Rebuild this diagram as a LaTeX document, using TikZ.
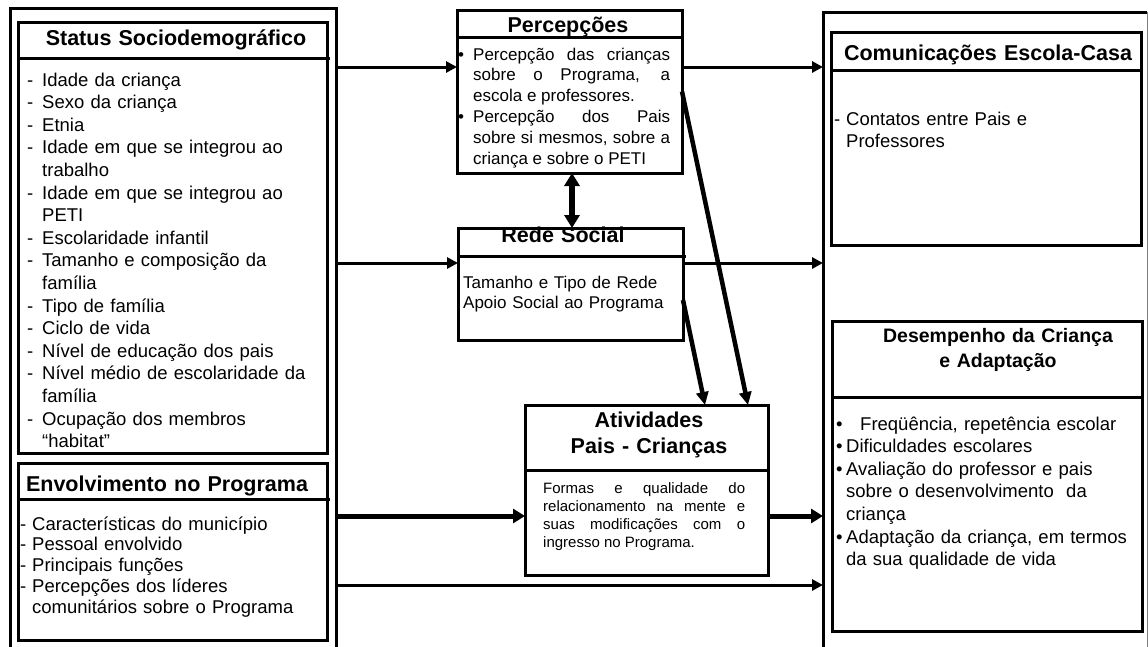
\documentclass[tikz,border=0pt]{standalone}
\usepackage{fontspec}
\setmainfont{Liberation Sans}
\usetikzlibrary{arrows.meta,positioning}

% list marks with hanging continuation lines
\newcommand{\litem}[1][15pt]{\makebox[#1][l]{-}}
\newcommand{\lcont}[1][15pt]{\hspace*{#1}}
\newcommand{\bitem}[1][10pt]{\makebox[#1][l]{\textbullet}}

\begin{document}
\begin{tikzpicture}[x=1pt, y=-1pt,
   outerframe/.style={inner sep=0pt, outer sep=0pt, anchor=north west},
   box/.style={draw, line width=3pt, inner sep=0pt, outer sep=0pt, anchor=north west},
   boxtitle/.style={anchor=base, inner sep=0pt, text width=#1, align=center,
      font=\fontsize{21.5}{25}\selectfont\bfseries},
   boxtitle/.default=300pt,
   body/.style={anchor=base west, inner sep=0pt, text width=#1, align=left,
      font=\fontsize{18.5}{22.6}\selectfont},
   body/.default=298pt,
   conn/.style={line width=3pt, -{Triangle[length=11pt,width=11pt]}},
   thickconn/.style={line width=5pt, -{Triangle[length=12pt,width=14pt]}},
   dblconn/.style={line width=6pt, {Triangle[length=13pt,width=15pt]}-{Triangle[length=13pt,width=15pt]}},
   diagconn/.style={line width=4.5pt, -{Triangle[length=13pt,width=12pt]}}]

\useasboundingbox (0,0) rectangle (1148,646);

% outer frames
\node[outerframe, draw, line width=3pt, minimum width=326pt, minimum height=700pt] (lframe) at (10,8) {};
\node[outerframe, minimum width=324pt, minimum height=700pt] (rframe) at (823,12) {};
\draw[line width=3pt] (rframe.south west) -- (rframe.north west) -- (rframe.north east);
\draw[line width=1pt, gray] (rframe.north east) -- (rframe.south east);

% left column
\node[box, minimum width=309pt, minimum height=431pt] (status) at (18,22) {};
\draw[line width=3pt] ([yshift=-36pt]status.north west) -- ([yshift=-36pt,xshift=3pt]status.north east);
\node[boxtitle] (status-t) at (176,45) {Status Sociodemográfico};
\node[body] (status-b) at (27,86) {%
  \litem Idade da criança\\
  \litem Sexo da criança\\
  \litem Etnia\\
  \litem Idade em que se integrou ao\\
  \lcont trabalho\\
  \litem Idade em que se integrou ao\\
  \lcont PETI\\
  \litem Escolaridade infantil\\
  \litem Tamanho e composição da\\
  \lcont família\\
  \litem Tipo de família\\
  \litem Ciclo de vida\\
  \litem Nível de educação dos pais\\
  \litem Nível médio de escolaridade da\\
  \lcont família\\
  \litem Ocupação dos membros\\
  \lcont “habitat”};

\node[box, minimum width=309pt, minimum height=177pt] (envolv) at (18,463) {};
\draw[line width=3pt] ([yshift=-36pt]envolv.north west) -- ([yshift=-36pt,xshift=3pt]envolv.north east);
\node[boxtitle] (envolv-t) at (167,491) {Envolvimento no Programa};
\node[body=306pt, font=\fontsize{18.5}{20.75}\selectfont] (envolv-b) at (20,530) {%
  \litem[12pt]Características do município\\
  \litem[12pt]Pessoal envolvido\\
  \litem[12pt]Principais funções\\
  \litem[12pt]Percepções dos líderes\\
  \lcont[12pt]comunitários sobre o Programa};

% middle column
\node[box, minimum width=225pt, minimum height=163pt] (perc) at (457,10) {};
\draw[line width=3pt] ([yshift=-27pt]perc.north west) -- ([yshift=-27pt]perc.north east);
\node[boxtitle=220pt] (perc-t) at (568,32) {Percepções};
\node[body=212pt, align=justify, font=\fontsize{17}{20.8}\selectfont] (perc-b) at (458,60) {%
  \hangindent=15pt\hangafter=1\noindent\bitem[15pt]Percepção das crianças\linebreak
  sobre o Programa, a\linebreak escola e professores.\par
  \hangindent=15pt\hangafter=1\noindent\bitem[15pt]Percepção dos Pais\linebreak
  sobre si mesmos, sobre a\linebreak criança e sobre o PETI\par};

\node[boxtitle=220pt] (rede-t) at (563,242) {Rede Social};
\node[box, minimum width=225pt, minimum height=112pt] (rede) at (458,228) {};
\draw[line width=3pt] ([yshift=-28pt]rede.north west) -- ([yshift=-28pt,xshift=3pt]rede.north east);
\node[body=218pt, font=\fontsize{17}{20}\selectfont] (rede-b) at (463,288) {%
  Tamanho e Tipo de Rede\\
  Apoio Social ao Programa};

\node[box, minimum width=243pt, minimum height=170pt] (acts) at (525,405) {};
\draw[line width=3pt] ([yshift=-65pt]acts.north west) -- ([yshift=-65pt]acts.north east);
\node[boxtitle=240pt, font=\fontsize{21.5}{26}\selectfont\bfseries] (acts-t) at (649,427) {Atividades\\Pais - Crianças};
\node[body=202pt, align=justify, font=\fontsize{15}{18}\selectfont] (acts-b) at (543,493) {%
  Formas e qualidade do\linebreak relacionamento na mente e\linebreak
  suas modificações com o\linebreak ingresso no Programa.\par};

% right column
\node[box, minimum width=310pt, minimum height=213pt] (comun) at (831,32) {};
\draw[line width=3pt] ([yshift=-38pt]comun.north west) -- ([yshift=-38pt]comun.north east);
\node[boxtitle] (comun-t) at (988,60) {Comunicações Escola-Casa};
\node[body=305pt] (comun-b) at (834,125) {%
  \litem[12pt]Contatos entre Pais e\\
  \lcont[12pt]Professores};

\node[box, minimum width=310pt, minimum height=310pt] (desemp) at (832,321) {};
\draw[line width=3pt] ([yshift=-76pt]desemp.north west) -- ([yshift=-76pt]desemp.north east);
\node[boxtitle, font=\fontsize{19.5}{25}\selectfont\bfseries] (desemp-t) at (998,342) {Desempenho da Criança\\e Adaptação};
\node[body=305pt] (desemp-b) at (836,430) {%
  \bitem[24pt]Freqüência, repetência escolar\\
  \bitem Dificuldades escolares\\
  \bitem Avaliação do professor e pais\\
  \lcont[10pt]sobre o desenvolvimento\ \ da\\
  \lcont[10pt]criança\\
  \bitem Adaptação da criança, em termos\\
  \lcont[10pt]da sua qualidade de vida};

% connectors
\draw[conn] (lframe.east |- 0,67) -- (perc.west |- 0,67);
\draw[conn] (perc.east |- 0,67) -- (rframe.west |- 0,67);
\draw[conn] (lframe.east |- 0,263) -- (rede.west |- 0,263);
\draw[conn] (rede.east |- 0,263) -- (rframe.west |- 0,263);
\draw[thickconn] (lframe.east |- 0,516) -- (acts.west |- 0,516);
\draw[thickconn] (acts.east |- 0,516) -- (rframe.west |- 0,516);
\draw[conn] (lframe.east |- 0,585) -- (rframe.west |- 0,585);
\draw[dblconn] (perc.south -| 572,0) -- (rede.north -| 572,0);
\draw[diagconn] (perc.east) -- ([xshift=-20pt]acts.north east);
\draw[diagconn] ([yshift=-16pt]rede.east) -- ([xshift=-63pt]acts.north east);

\end{tikzpicture}
\end{document}
